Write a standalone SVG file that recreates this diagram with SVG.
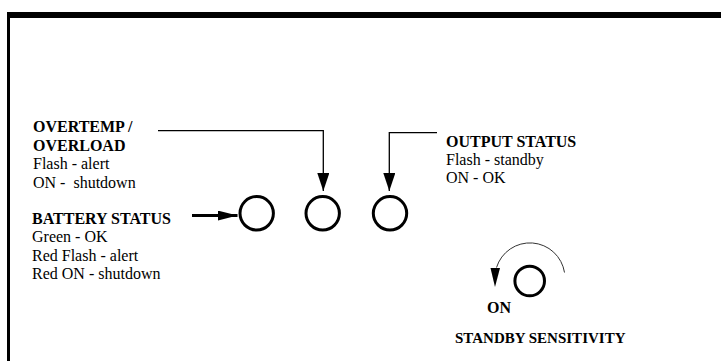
<svg xmlns="http://www.w3.org/2000/svg" width="721" height="361" viewBox="0 0 721 361">
<style>
.t{font-family:"Liberation Serif","Times New Roman",serif;font-size:16px;fill:#000;white-space:pre}
.b{font-weight:bold}
.ind{fill:none;stroke:#000;stroke-width:3}
.thin{fill:none;stroke:#000;stroke-width:1.3}
</style>
<defs>
<marker id="ah" viewBox="0 0 18 12" refX="18" refY="6" markerWidth="18" markerHeight="12" markerUnits="userSpaceOnUse" orient="auto">
<path d="M0,0 L18,6 L0,12 z" fill="#000"/>
</marker>
<marker id="ahb" viewBox="0 0 20 10" refX="20" refY="5" markerWidth="20" markerHeight="10" markerUnits="userSpaceOnUse" orient="auto">
<path d="M0,0 L20,5 L0,10 z" fill="#000"/>
</marker>
</defs>
<rect width="721" height="361" fill="#fff"/>
<g id="frame">
<rect x="7" y="12" width="714" height="6" fill="#000"/>
<rect x="7" y="12" width="3" height="349" fill="#000"/>
</g>
<g id="connectors">
<path class="thin" d="M158,130.7 H323.3 V191" marker-end="url(#ah)"/>
<path class="thin" d="M437,132.7 H389.3 V191" marker-end="url(#ah)"/>
<path d="M192,215.5 H237.5" fill="none" stroke="#000" stroke-width="2.8" marker-end="url(#ahb)"/>
<path d="M564.5,272.5 A35,35 0 0 0 496.5,267.5" fill="none" stroke="#333" stroke-width="1"/>
<polygon points="490.5,268 500,268 495,287" fill="#000"/>
</g>
<g id="battery-led"><circle class="ind" cx="256.7" cy="213.3" r="16.7"/></g>
<g id="overtemp-led"><circle class="ind" cx="322.7" cy="213.3" r="16.7"/></g>
<g id="output-led"><circle class="ind" cx="390" cy="213.3" r="16.7"/></g>
<g id="standby-knob"><circle class="ind" cx="529.7" cy="281" r="14.8"/></g>
<g id="overtemp-label">
<text class="t b" x="33" y="132">OVERTEMP /</text>
<text class="t b" x="33" y="150.5">OVERLOAD</text>
<text class="t" x="33" y="169">Flash - alert</text>
<text class="t" x="33" y="187.5">ON -  shutdown</text>
</g>
<g id="battery-label">
<text class="t b" x="32" y="223.5">BATTERY STATUS</text>
<text class="t" x="32" y="242">Green - OK</text>
<text class="t" x="32" y="260.5">Red Flash - alert</text>
<text class="t" x="32" y="279">Red ON - shutdown</text>
</g>
<g id="output-label">
<text class="t b" x="446" y="146.5">OUTPUT STATUS</text>
<text class="t" x="446" y="164.5">Flash - standby</text>
<text class="t" x="446" y="182.5">ON - OK</text>
</g>
<g id="standby-label">
<text class="t b" x="487" y="312.5">ON</text>
<text class="t b" x="455" y="343" style="font-size:15px">STANDBY SENSITIVITY</text>
</g>
</svg>
